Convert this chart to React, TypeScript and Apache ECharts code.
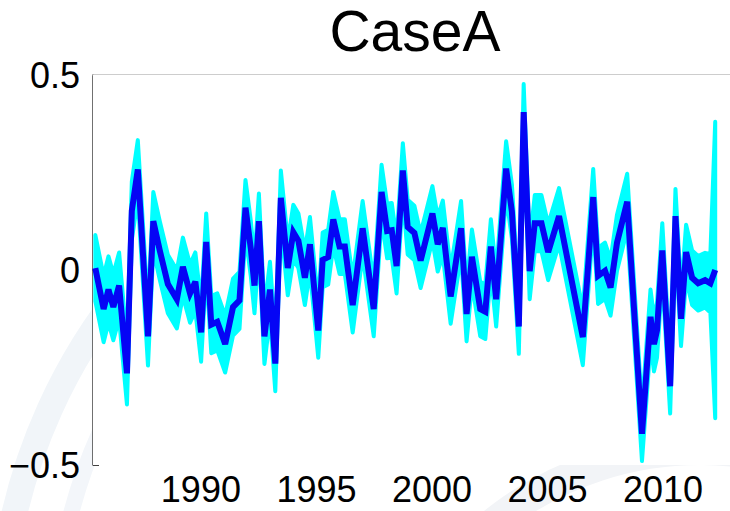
import React, { useEffect, useRef } from "react";
import * as echarts from "echarts";

// Years (decimal) of each observation
const years: number[] = [
  1985.43, 1985.79, 1986.0, 1986.21, 1986.46, 1986.8, 1987.01, 1987.27, 1987.71, 1987.94,
  1988.22, 1988.57, 1988.96, 1989.22, 1989.53, 1989.76, 1990.01, 1990.23, 1990.45, 1990.71,
  1991.05, 1991.39, 1991.67, 1991.93, 1992.16, 1992.32, 1992.51, 1992.75, 1992.99, 1993.22,
  1993.46, 1993.76, 1994.0, 1994.22, 1994.5, 1994.72, 1995.08, 1995.27, 1995.51, 1995.73,
  1996.0, 1996.23, 1996.57, 1997.0, 1997.48, 1997.82, 1998.06, 1998.26, 1998.47, 1998.74,
  1998.95, 1999.24, 1999.51, 2000.02, 2000.25, 2000.47, 2000.81, 2001.26, 2001.5, 2001.73,
  2002.09, 2002.31, 2002.55, 2002.78, 2003.21, 2003.46, 2003.76, 2003.97, 2004.23, 2004.45,
  2004.74, 2005.03, 2005.5, 2006.53, 2006.98, 2007.19, 2007.49, 2007.73, 2008.01, 2008.45,
  2009.09, 2009.46, 2009.61, 2009.74, 2009.97, 2010.31, 2010.54, 2010.78, 2011.0, 2011.26,
  2011.52, 2011.82, 2012.05, 2012.26,
];

// Central estimate (blue line)
const estimate: number[] = [
  0.005, -0.1, -0.05, -0.095, -0.04, -0.265, 0.152, 0.258, -0.17, 0.125,
  0.05, -0.036, -0.075, 0.008, -0.06, -0.03, -0.16, 0.072, -0.14, -0.133,
  -0.19, -0.095, -0.078, 0.16, 0.055, -0.04, 0.125, -0.17, -0.05, -0.24,
  0.185, 0.005, 0.097, 0.075, -0.02, 0.066, -0.155, 0.026, 0.033, 0.13,
  0.06, 0.06, -0.09, 0.107, -0.1, 0.2, 0.1, 0.102, 0.01, 0.255,
  0.11, 0.095, 0.024, 0.145, 0.066, 0.108, -0.068, 0.107, -0.113, 0.034,
  -0.1, -0.107, 0.06, -0.075, 0.26, 0.15, -0.145, 0.405, -0.003, 0.12,
  0.12, 0.046, 0.138, -0.172, 0.187, -0.015, -0.002, -0.045, 0.07, 0.175,
  -0.42, -0.12, -0.19, -0.155, 0.05, -0.298, 0.138, -0.125, 0.046, -0.02,
  -0.034, -0.026, -0.034, 0.0,
];

// Half width of the cyan band around the estimate
const bandHalf: number[] = [
  0.085, 0.085, 0.085, 0.085, 0.085, 0.08, 0.075, 0.075, 0.075, 0.075,
  0.075, 0.075, 0.075, 0.075, 0.075, 0.075, 0.075, 0.073, 0.073, 0.073,
  0.073, 0.073, 0.073, 0.071, 0.071, 0.071, 0.071, 0.071, 0.071, 0.071,
  0.07, 0.07, 0.07, 0.07, 0.07, 0.07, 0.07, 0.07, 0.07, 0.07,
  0.07, 0.07, 0.07, 0.07, 0.07, 0.07, 0.07, 0.07, 0.07, 0.07,
  0.07, 0.07, 0.07, 0.07, 0.07, 0.07, 0.07, 0.07, 0.07, 0.07,
  0.07, 0.07, 0.07, 0.07, 0.07, 0.07, 0.07, 0.072, 0.072, 0.072,
  0.072, 0.072, 0.072, 0.072, 0.072, 0.072, 0.072, 0.072, 0.072, 0.072,
  0.07, 0.07, 0.07, 0.07, 0.07, 0.07, 0.07, 0.07, 0.07, 0.07,
  0.07, 0.07, 0.075, 0.38,
];

const xTickYears: number[] = [1990, 1995, 2000, 2005, 2010];
const yTicks: number[] = [-0.5, 0, 0.5];
const titleText = "CaseA";

export default function App() {
  const ref = useRef<HTMLDivElement>(null);

  useEffect(() => {
    if (!ref.current) return;
    const chart = echarts.init(ref.current, undefined, { renderer: "svg" });

    const line = years.map((x, i) => [x, estimate[i]]);

    const font = "'Liberation Sans', Arial, Helvetica, sans-serif";

    chart.setOption({
      animation: false,
      backgroundColor: "#ffffff",
      title: {
        text: titleText,
        left: 410,
        top: -3,
        textAlign: "center",
        textStyle: { fontSize: 57, fontWeight: "normal", color: "#000", fontFamily: font },
      },
      graphic: [
        { type: "arc", z: -10, shape: { cx: 560, cy: 640, r: 560, startAngle: Math.PI * 0.97, endAngle: Math.PI * 1.3 }, style: { stroke: "#f1f5f9", lineWidth: 26, fill: "none" } },
        { type: "arc", z: -10, shape: { cx: 560, cy: 640, r: 505, startAngle: Math.PI * 0.97, endAngle: Math.PI * 1.3 }, style: { stroke: "#f3f6fa", lineWidth: 16, fill: "none" } },
        { type: "arc", z: -10, shape: { cx: 700, cy: 780, r: 330, startAngle: Math.PI * 1.2, endAngle: Math.PI * 1.6 }, style: { stroke: "#f2f4f7", lineWidth: 30, fill: "none" } },
      ],
      grid: {
        left: 93,
        right: 0,
        top: 75,
        bottom: 46,
        show: true,
        backgroundColor: "#ffffff",
        borderWidth: 0,
        z: 1,
      },
      xAxis: [
        {
          type: "value",
          min: 1985.33,
          max: 2012.9,
          axisLine: { show: true, lineStyle: { color: "#404040", width: 1.5 } },
          axisTick: { show: true, inside: true, length: 6, customValues: xTickYears, lineStyle: { color: "#404040" } },
          axisLabel: {
            customValues: xTickYears,
            fontSize: 36,
            color: "#000",
            fontFamily: font,
            margin: 6,
            formatter: (v: number) => String(Math.round(v)),
          },
          splitLine: { show: false },
        },
        {
          type: "value",
          position: "top",
          min: 1985.33,
          max: 2012.9,
          axisLine: { show: true, onZero: false, lineStyle: { color: "#bdbdbd", width: 1.5 } },
          axisTick: { show: false },
          axisLabel: { show: false },
          splitLine: { show: false },
        },
      ],
      yAxis: {
        type: "value",
        min: -0.5,
        max: 0.5,
        interval: 0.5,
        axisLine: { show: true, lineStyle: { color: "#404040", width: 1.5 } },
        axisTick: { show: true, inside: true, length: 6, lineStyle: { color: "#404040" } },
        axisLabel: {
          fontSize: 36,
          color: "#000",
          fontFamily: font,
          margin: 13,
          formatter: (v: number) => {
            if (!yTicks.includes(v)) return "";
            if (v === 0) return "0";
            return v < 0 ? "\u2212" + Math.abs(v) : String(v);
          },
        },
        splitLine: { show: false },
      },
      series: [
        {
          type: "custom",
          xAxisIndex: 0,
          yAxisIndex: 0,
          data: [[years[0], estimate[0]]],
          encode: { x: 0, y: 1 },
          z: 2,
          renderItem: (_params: any, api: any) => {
            const upper = years.map((x, i) => api.coord([x, estimate[i] + bandHalf[i]]));
            const lower = years.map((x, i) => api.coord([x, estimate[i] - bandHalf[i]])).reverse();
            return {
              type: "polygon",
              shape: { points: upper.concat(lower) },
              style: { fill: "#00ffff", stroke: "#00ffff", lineWidth: 4, lineJoin: "round" },
            };
          },
        },
        {
          type: "line",
          data: line,
          symbol: "none",
          lineStyle: { color: "#0505f5", width: 6, join: "miter", miterLimit: 3 },
          z: 3,
        },
      ],
    });

    return () => chart.dispose();
  }, []);

  return (
    <div
      ref={ref}
      style={{ position: "fixed", left: 0, top: 0, width: 730, height: 511 }}
    />
  );
}
